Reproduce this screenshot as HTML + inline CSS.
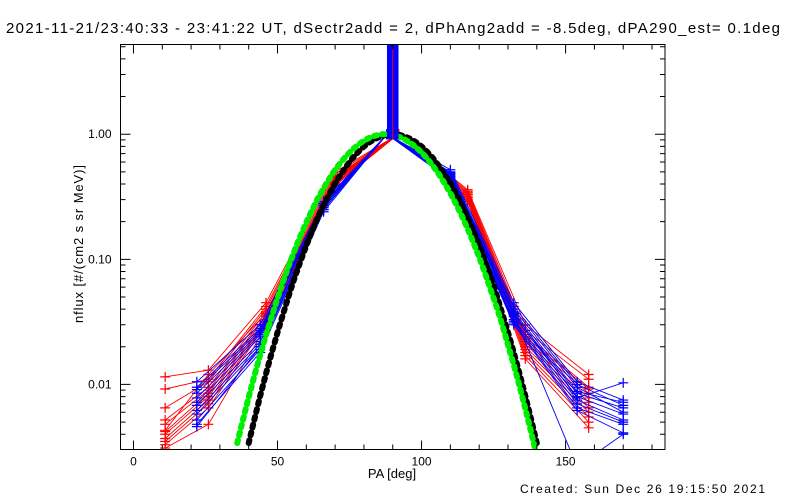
<!DOCTYPE html>
<html><head><meta charset="utf-8"><style>
body{margin:0;background:#fff;}
svg{display:block;font-family:"Liberation Sans",sans-serif;}
</style></head><body>
<svg id="chart" width="800" height="500" viewBox="0 0 800 500">
<text x="6" y="33" font-size="15" textLength="774" lengthAdjust="spacing">2021-11-21/23:40:33 - 23:41:22 UT, dSectr2add = 2, dPhAng2add = -8.5deg, dPA290_est=  0.1deg</text>
<g id="plot"></g>
<text x="392" y="478" font-size="13" text-anchor="middle">PA [deg]</text>
<text x="0" y="0" font-size="13" text-anchor="middle" textLength="158" lengthAdjust="spacing" transform="translate(83,244) rotate(-90)">nflux [#/(cm2 s sr MeV)]</text>
<text x="520" y="493" font-size="12" textLength="245" lengthAdjust="spacing">Created: Sun Dec 26 19:15:50 2021</text>
</svg>
<script>
const xTicks=[0,50,100,150];
const yTicks=[1,0.1,0.01];
const yTickLabels=["1.00","0.10","0.01"];
const bluePA=[22,44,66,88,110,132,154,170];
const blueVals=[
[0.0105,0.030,0.29,1.0,0.52,0.045,0.0105,0.0075],
[0.0095,0.028,0.28,1.0,0.50,0.042,0.010,0.0068],
[0.0085,0.026,0.28,1.0,0.49,0.040,0.0095,0.0060],
[0.0078,0.025,0.27,1.0,0.48,0.038,0.0088,0.0072],
[0.0072,0.024,0.27,1.0,0.47,0.036,0.0085,0.0065],
[0.0068,0.022,0.26,1.0,0.46,0.035,0.0080,0.0058],
[0.0062,0.021,0.26,1.0,0.45,0.033,0.0075,0.0052],
[0.0058,0.020,0.25,1.0,0.44,0.032,0.0070,0.0050],
[0.0052,0.019,0.25,1.0,0.44,0.031,0.0065,0.0048],
[0.0048,0.018,0.24,1.0,0.43,0.030,0.0062,0.0041],
[0.0046,0.020,0.25,1.0,0.46,0.036,0.0022,0.0040],
[0.0091,0.027,0.27,1.0,0.48,0.037,0.0078,0.0103]];
const redPA=[11,26,46,70,92,116,136,158];
const redVals=[
[0.0115,0.013,0.045,0.50,1.0,0.36,0.030,0.012],
[0.0092,0.011,0.042,0.48,1.0,0.35,0.027,0.011],
[0.0065,0.0105,0.040,0.46,1.0,0.34,0.025,0.0095],
[0.0052,0.0095,0.038,0.45,1.0,0.33,0.023,0.0085],
[0.0048,0.009,0.036,0.44,1.0,0.33,0.022,0.0078],
[0.0042,0.0085,0.035,0.43,1.0,0.32,0.021,0.0072],
[0.0040,0.008,0.033,0.42,1.0,0.31,0.020,0.0065],
[0.0037,0.0075,0.032,0.41,1.0,0.31,0.019,0.0060],
[0.0035,0.007,0.031,0.40,1.0,0.30,0.018,0.0055],
[0.0033,0.0065,0.030,0.40,1.0,0.30,0.017,0.0050],
[0.0031,0.0048,0.029,0.39,1.0,0.29,0.016,0.0045],
[0.0043,0.012,0.037,0.44,1.0,0.34,0.024,0.0092]];
const greenPA=[36,38,40,42,44,46,48,50,52,54,56,58,60,62,64,66,68,70,72,74,76,78,80,82,84,86,88,90,92,94,96,98,100,102,104,106,108,110,112,114,116,118,120,122,124,126,128,130,132,134,136,138,140];
const greenVals=[0.0034,0.0052,0.0079,0.0118,0.0173,0.0248,0.035,0.049,0.067,0.090,0.119,0.155,0.197,0.248,0.306,0.371,0.442,0.519,0.597,0.676,0.753,0.824,0.887,0.937,0.975,0.998,0.999,0.987,0.957,0.913,0.857,0.789,0.715,0.637,0.557,0.480,0.406,0.337,0.276,0.222,0.175,0.136,0.104,0.078,0.057,0.042,0.030,0.0207,0.0143,0.0097,0.0064,0.0042,0.0027];
const blackPA=[40,42,44,46,48,50,52,54,56,58,60,62,64,66,68,70,72,74,76,78,80,82,84,86,88,90,92,94,96,98,100,102,104,106,108,110,112,114,116,118,120,122,124,126,128,130,132,134,136,138,140];
const blackVals=[0.0034,0.0053,0.0081,0.0122,0.018,0.026,0.037,0.052,0.072,0.097,0.129,0.168,0.215,0.270,0.333,0.403,0.479,0.558,0.640,0.721,0.797,0.865,0.921,0.964,0.991,1.0,0.991,0.964,0.921,0.865,0.797,0.721,0.640,0.558,0.479,0.403,0.333,0.270,0.215,0.168,0.129,0.097,0.072,0.052,0.037,0.026,0.018,0.0122,0.0081,0.0053,0.0034];
const barPA=[88,92];
const barBottom=[0.91];

const L=120.5,R=665,T=44.5,B=449.5;
const xMin=-4.5,xMax=184.5;
const yMax=5.21,yMin=0.00302;
function X(v){return L+(v-xMin)/(xMax-xMin)*(R-L);}
function Y(v){return T+(Math.log10(yMax)-Math.log10(v))/(Math.log10(yMax)-Math.log10(yMin))*(B-T);}
const NS="http://www.w3.org/2000/svg";
const g=document.getElementById('plot');
function mk(tag,attrs,parent){const e=document.createElementNS(NS,tag);for(const k in attrs)e.setAttribute(k,attrs[k]);(parent||g).appendChild(e);return e;}

const defs=mk('defs',{});
const cp=mk('clipPath',{id:'clip'},defs);
mk('rect',{x:L,y:T,width:R-L,height:B-T},cp);
const data=mk('g',{'clip-path':'url(#clip)'});



function series(pa,vals,color,name){
  const pts=pa.map((p,i)=>X(p).toFixed(1)+','+Y(vals[i]).toFixed(1)).join(' ');
  const pl=mk('polyline',{points:pts,fill:'none',stroke:color,'stroke-width':0.9},data);
  
  
  pa.forEach((p,i)=>{
    const x=X(p),y=Y(vals[i]);
    const m=mk('path',{d:`M${x-5},${y}H${x+5}M${x},${y-5}V${y+5}`,stroke:color,'stroke-width':1.2},data);
    
    
  });
}
redVals.forEach((v,i)=>series(redPA,v,'#ff0000','red-series-'+(i+1)));
blueVals.forEach((v,i)=>series(bluePA,v,'#0000ff','blue-series-'+(i+1)));

function dotted(pa,vals,color,name){
  const pts=pa.map((p,i)=>X(p).toFixed(1)+','+Y(vals[i]).toFixed(1)).join(' ');
  const pl=mk('polyline',{points:pts,fill:'none',stroke:color,'stroke-width':6,'stroke-dasharray':'3 5','stroke-linecap':'round'},data);
  
  
}
dotted(blackPA,blackVals,'#000000','black-fit-curve');
dotted(greenPA,greenVals,'#00ee00','green-fit-curve');

const bar=mk('rect',{x:X(barPA[0]),y:T,width:X(barPA[1])-X(barPA[0]),height:Y(barBottom[0])-T,fill:'#0000ff'},data);


const barLine=mk('line',{x1:X((barPA[0]+barPA[1])/2),x2:X((barPA[0]+barPA[1])/2),y1:T,y2:Y(barBottom[0]),stroke:'#ff0000','stroke-width':1},data);



const frame=mk('rect',{x:L,y:T,width:R-L,height:B-T,fill:'none',stroke:'#000','stroke-width':1});


let d='';
for(let v=0;v<=180;v+=10){const x=X(v);const len=(v%50===0)?9:5;d+=`M${x},${B}v${-len}M${x},${T}v${len}`;}
for(let e=-3;e<=0;e++){for(let k=1;k<=9;k++){const v=k*Math.pow(10,e);if(v<yMin||v>yMax)continue;const y=Y(v);const len=k===1?10:5;d+=`M${L},${y}h${len}M${R},${y}h${-len}`;}}
const ticks=mk('path',{d:d,stroke:'#000','stroke-width':1,fill:'none'});


xTicks.forEach(v=>{
  const t=mk('text',{x:X(v),y:B+16,'font-size':12,'text-anchor':'middle'});
  t.textContent=String(v);
  
  
});
yTicks.forEach((v,i)=>{
  const t=mk('text',{x:L-9,y:Y(v)+4,'font-size':12,'text-anchor':'end'});
  t.textContent=yTickLabels[i];
  
  
});
</script>
</body></html>
